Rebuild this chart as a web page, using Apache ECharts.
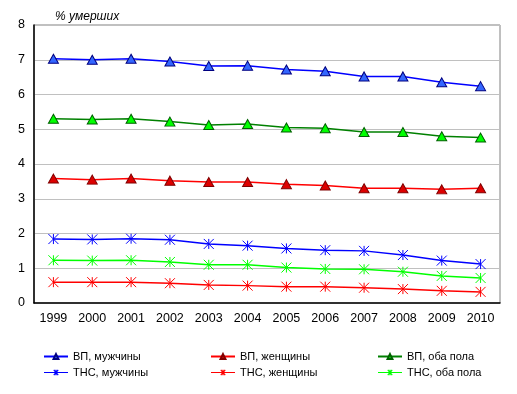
<!DOCTYPE html>
<html><head><meta charset="utf-8">
<script src="https://cdn.jsdelivr.net/npm/echarts@6/dist/echarts.min.js"></script>
<style>html,body{margin:0;padding:0;background:#fff}#c{width:517px;height:394px}</style>
</head><body><div id="c"></div>
<script>
const years = ['1999','2000','2001','2002','2003','2004','2005','2006','2007','2008','2009','2010'];
const yTicks = [0,1,2,3,4,5,6,7,8];
const vpMen   = [7.03,7.00,7.03,6.95,6.82,6.83,6.72,6.67,6.52,6.52,6.35,6.24];
const vpWomen = [3.58,3.55,3.58,3.52,3.48,3.48,3.42,3.38,3.30,3.30,3.27,3.30];
const vpBoth  = [5.30,5.28,5.30,5.22,5.12,5.15,5.05,5.03,4.92,4.92,4.80,4.76];
const tnsMen   = [1.84,1.83,1.85,1.82,1.70,1.65,1.57,1.52,1.50,1.38,1.22,1.12];
const tnsWomen = [0.60,0.60,0.60,0.57,0.52,0.50,0.47,0.47,0.44,0.40,0.35,0.32];
const tnsBoth  = [1.23,1.22,1.23,1.18,1.10,1.10,1.02,0.98,0.97,0.90,0.78,0.72];
const names = ['ВП, мужчины','ВП, женщины','ВП, оба пола','ТНС, мужчины','ТНС, женщины','ТНС, оба пола'];

const star = 'path://M0,0L10,10M10,0L0,10M5,0L5,10';
const starLegend = 'path://M0,3L27,3M11,0L16,6M16,0L11,6M13.5,0L13.5,6';
function tri(name, data, line, fill, border){
  return {name, type:'line', data, symbol:'triangle', symbolSize:[10,9],
    lineStyle:{color:line,width:1.5}, itemStyle:{color:fill,borderColor:border,borderWidth:1},
    emphasis:{disabled:true}};
}
function ast(name, data, line){
  return {name, type:'line', data, symbol:star, symbolSize:10,
    lineStyle:{color:line,width:1.5}, itemStyle:{color:'rgba(0,0,0,0)',borderColor:line,borderWidth:1},
    emphasis:{disabled:true}};
}
function astLeg(name, color){
  return {name, icon:starLegend, itemStyle:{color:'rgba(0,0,0,0)',borderColor:color,borderWidth:1.2}};
}
const legendBase = {orient:'vertical', top:346, itemWidth:24, itemHeight:6, itemGap:5,
  textStyle:{fontSize:11,color:'#000',fontFamily:'Liberation Sans, Arial'}, selectedMode:false};
const chart = echarts.init(document.getElementById('c'));
chart.setOption({
  animation:false,
  textStyle:{fontFamily:'Liberation Sans, Arial'},
  title:{text:'% умерших', left:50, top:6, textStyle:{fontSize:12,fontStyle:'italic',fontWeight:'normal',color:'#000'}},
  legend:[
    Object.assign({left:38, data:[names[0],astLeg(names[3],'#0000FF')]}, legendBase),
    Object.assign({left:205, data:[names[1],astLeg(names[4],'#FF0000')]}, legendBase),
    Object.assign({left:372, data:[names[2],astLeg(names[5],'#00FF00')]}, legendBase)
  ],
  grid:{left:34,right:17,top:25,bottom:91,show:true,borderColor:'#808080',borderWidth:1,containLabel:false},
  xAxis:{type:'category', data:years, boundaryGap:true,
    axisLine:{lineStyle:{color:'#000',width:1.5}}, axisTick:{show:false},
    axisLabel:{color:'#000',fontSize:12.5,margin:9}},
  yAxis:{type:'value', min:yTicks[0], max:yTicks[yTicks.length-1], interval:1,
    axisLine:{show:true,lineStyle:{color:'#000',width:1.5}}, axisTick:{show:false},
    axisLabel:{color:'#000',fontSize:12.5,margin:9},
    splitLine:{lineStyle:{color:'#C0C0C0',width:1}}},
  series:[
    tri(names[0], vpMen, '#0000FF', '#3366FF', '#000080'),
    tri(names[1], vpWomen, '#FF0000', '#DD0000', '#800000'),
    tri(names[2], vpBoth, '#008000', '#00FF00', '#006000'),
    ast(names[3], tnsMen, '#0000FF'),
    ast(names[4], tnsWomen, '#FF0000'),
    ast(names[5], tnsBoth, '#00FF00')
  ]
});
</script></body></html>
